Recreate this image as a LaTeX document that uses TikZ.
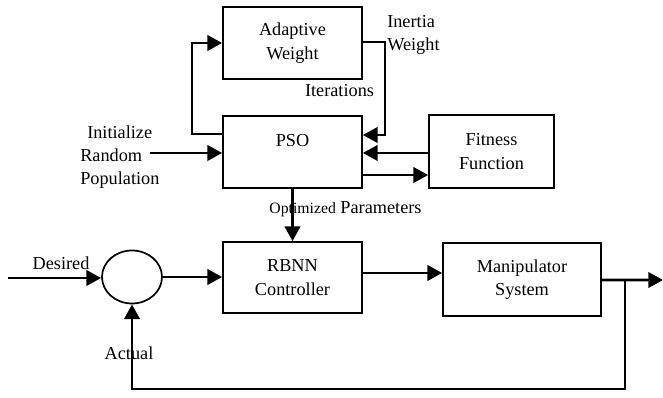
\documentclass[tikz,border=0pt]{standalone}
\usepackage{fontspec}
\setmainfont{Liberation Serif}
\usetikzlibrary{arrows.meta,shapes.geometric,calc}
\begin{document}
\begin{tikzpicture}[x=0.75pt,y=-0.75pt,
  font=\fontsize{13.7}{17.5}\selectfont,
  box/.style={draw,line width=1.3pt,rectangle,align=center,inner sep=0pt},
  arr/.style={line width=2pt,-{Triangle[length=11pt,width=11.5pt]}},
  ln/.style={line width=2pt},
  lbl/.style={inner sep=0pt,align=center}]
\useasboundingbox (0,0) rectangle (663,398);
% boxes
\node[box,minimum width=104.25pt,minimum height=54pt] (aw) at (292.5,43) {Adaptive\\Weight};
\node[box,minimum width=104.25pt,minimum height=54pt] (pso) at (292.5,152) {PSO\\\mbox{}};
\node[box,minimum width=93.75pt,minimum height=54.75pt] (fit) at (491.5,151.5) {Fitness\\Function};
\node[box,minimum width=104.25pt,minimum height=53.25pt] (rbnn) at (292.5,277.5) {RBNN\\Controller};
\node[box,minimum width=118.5pt,minimum height=54.75pt] (man) at (522,279.5) {Manipulator\\System};
\node[draw,line width=1.3pt,ellipse,minimum width=45pt,minimum height=39.75pt,inner sep=0pt] (sum) at (132,277) {};
% labels
\node[lbl,anchor=west,align=left] (iw) at (387,35) {Inertia\\Weight};
\node[lbl] (it) at (339.5,91) {Iterations};
\node[lbl,anchor=west,align=left] (init) at (80,157) {\hspace{5.25pt}Initialize\\Random\\Population};
\node[lbl] (opt) at (345.5,209) {{\fontsize{11.8}{14}\selectfont Optimized} Parameters};
\node[lbl] (des) at (61,263) {Desired};
\node[lbl] (act) at (129,353) {Actual};
% coordinates
\coordinate (inp) at (150,153);
\coordinate (dst) at (8,278);
\coordinate (out) at (663,280);
\coordinate (br) at (625,280);
\coordinate (fb) at (625,389);
\coordinate (pl) at ([yshift=13.5pt]pso.west);
\coordinate (pr) at ([yshift=12.75pt]pso.east);
\coordinate (p2f) at ([yshift=-17.25pt]pso.east);
\coordinate (f2p) at ([yshift=-1.1pt]fit.west);
\coordinate (rm) at ([yshift=3.4pt]rbnn.east);
\coordinate (mo) at ([yshift=-0.4pt]man.east);
% connectors
\draw[arr] (pl) -- ++(-30,0) |- (aw.west);
\draw[arr] ([yshift=0.75pt]aw.east) -- ++(22,0) |- (pr);
\draw[arr] (inp) -- (inp -| pso.west);
\draw[arr] (f2p) -- (f2p -| pso.east);
\draw[arr] (p2f) -- (p2f -| fit.west);
\draw[arr] (pso.south) -- (rbnn.north);
\draw[arr] (dst) -- (dst -| sum.west);
\draw[arr] (sum.east) -- (sum.east -| rbnn.west);
\draw[arr] (rm) -- (rm -| man.west);
\draw[arr] (mo) -- (out);
\draw[arr] (br) -- (fb) -| (sum.south);
\end{tikzpicture}
\end{document}
